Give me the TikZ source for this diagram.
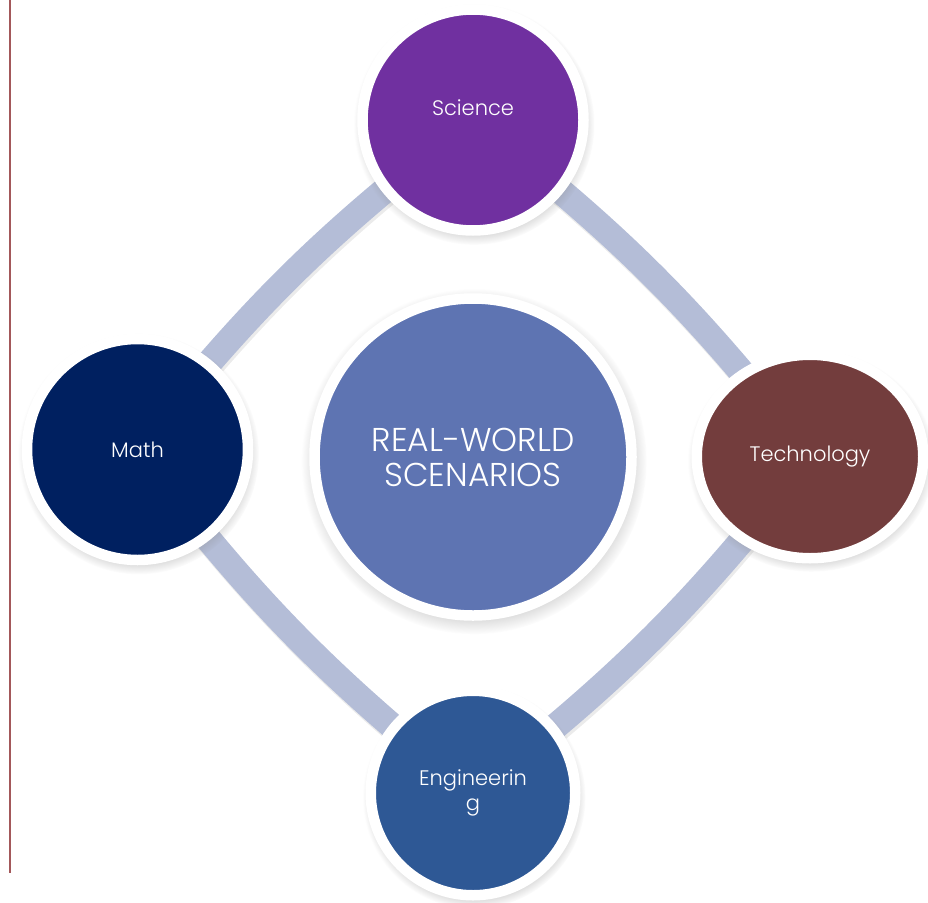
\documentclass[tikz,border=0pt]{standalone}
\usepackage{fontspec}
\setmainfont{Poppins}[UprightFont=* Light]
\usetikzlibrary{shapes.geometric,shadows,backgrounds}
\definecolor{sciencepurple}{HTML}{7030A0}
\definecolor{mathnavy}{HTML}{002060}
\definecolor{techbrown}{HTML}{733D3D}
\definecolor{engblue}{HTML}{2E5895}
\definecolor{hubblue}{HTML}{5E74B2}
\definecolor{ringblue}{HTML}{B4BDD7}
\definecolor{marginred}{HTML}{A3585A}
\tikzset{
  disc/.style={circle,draw=white,line width=10.5pt,inner sep=0pt,text=white,
    font=\fontsize{21}{25}\selectfont,align=center,
    circular drop shadow={shadow scale=1.09,shadow xshift=1pt,shadow yshift=-4pt,opacity=0.45}},
  lbl/.style={text=white,font=\fontsize{21}{25}\selectfont},
  link/.style={line width=26pt,ringblue},
  linkshade/.style={line width=26pt,black,opacity=0.08}
}
\begin{document}
\begin{tikzpicture}[x=1pt,y=-1pt]
\useasboundingbox (0,0) rectangle (928,902);
\draw[marginred,line width=2pt] (9.5,0) -- (9.5,873);
\node[disc,fill=hubblue,minimum size=317pt,font=\fontsize{33}{35}\selectfont] (hub) at (473,457) {REAL-WORLD\\SCENARIOS};
\node[disc,fill=sciencepurple,minimum size=221pt,label={[lbl,yshift=12pt]center:Science}] (sci) at (473,120) {};
\node[disc,fill=mathnavy,minimum size=221pt] (mat) at (137.5,449.5) {Math};
\node[disc,ellipse,fill=techbrown,minimum width=226.5pt,minimum height=203.5pt] (tec) at (810,456.5) {Technology};
\node[disc,fill=engblue,minimum size=204.5pt] (eng) at (473,793) {Engineerin\\g};
\begin{scope}[on background layer]
\foreach \a/\b in {sci/tec,tec/eng,eng/mat,mat/sci}{
  \draw[linkshade] ([shift={(1.5,3)}]\a.center) to[bend left=7] ([shift={(1.5,3)}]\b.center);
  \draw[link] (\a.center) to[bend left=7] (\b.center);
}
\end{scope}
\end{tikzpicture}
\end{document}
